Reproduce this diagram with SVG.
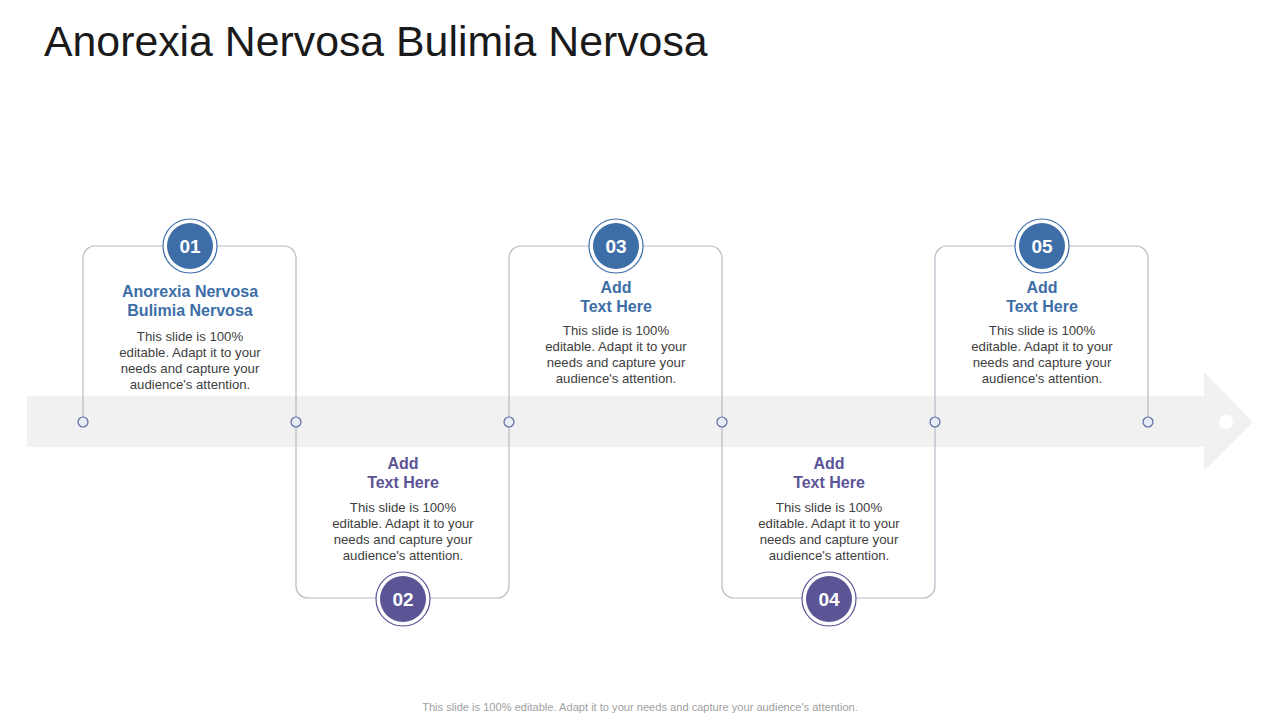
<svg xmlns="http://www.w3.org/2000/svg" width="1280" height="720" viewBox="0 0 1280 720">
<style>
.ln{fill:none;stroke:#b4b9c3;stroke-width:1.2}
.dot{fill:#e8ecf6;stroke:#5b6aa0;stroke-width:1.2}
.ring{fill:#fff;stroke-width:1.2}
.num{font-family:"Liberation Sans",Arial,sans-serif;font-weight:bold;font-size:19px;fill:#fff;text-anchor:middle}
.hd{font-family:"Liberation Sans",Arial,sans-serif;font-weight:bold;font-size:16px;text-anchor:middle}
.bd{font-family:"Liberation Sans",Arial,sans-serif;font-size:13.2px;fill:#404040;text-anchor:middle}
.b{fill:#3d6ea8}.p{fill:#5b5596}
</style>
<rect width="1280" height="720" fill="#fff"/>
<text x="44" y="56" font-family="Liberation Sans,Arial,sans-serif" font-size="42.8" fill="#1a1a1a">Anorexia Nervosa Bulimia Nervosa</text>
<polygon points="27,396 1204,396 1204,372 1253,422 1204,471 1204,447 27,447" fill="#f1f1f1"/>
<circle cx="1226" cy="422" r="7" fill="#fff"/>
<g id="connectors">
<path class="ln" d="M83,422 V258 a12,12 0 0 1 12,-12 H284 a12,12 0 0 1 12,12 V586 a12,12 0 0 0 12,12 H497 a12,12 0 0 0 12,-12 V258 a12,12 0 0 1 12,-12 H710 a12,12 0 0 1 12,12 V586 a12,12 0 0 0 12,12 H923 a12,12 0 0 0 12,-12 V258 a12,12 0 0 1 12,-12 H1136 a12,12 0 0 1 12,12 V422"/>
<circle class="dot" cx="83" cy="422" r="5"/><circle class="dot" cx="296" cy="422" r="5"/><circle class="dot" cx="509" cy="422" r="5"/><circle class="dot" cx="722" cy="422" r="5"/><circle class="dot" cx="935" cy="422" r="5"/><circle class="dot" cx="1148" cy="422" r="5"/>
</g>
<g id="n1"><circle class="ring" cx="190" cy="246" r="27" stroke="#3d6ea8"/><circle class="b" cx="190" cy="246" r="23"/><text class="num" x="190" y="253">01</text>
<text class="hd" x="190" y="297" fill="#3d6ea8">Anorexia Nervosa</text><text class="hd" x="190" y="316" fill="#3d6ea8">Bulimia Nervosa</text>
<text class="bd" x="190" y="341">This slide is 100%</text><text class="bd" x="190" y="357">editable. Adapt it to your</text><text class="bd" x="190" y="373">needs and capture your</text><text class="bd" x="190" y="389">audience's attention.</text></g>
<g id="n2"><circle class="ring" cx="403" cy="599" r="27" stroke="#5b5596"/><circle class="p" cx="403" cy="599" r="23"/><text class="num" x="403" y="606">02</text>
<text class="hd" x="403" y="469" fill="#5b5596">Add</text><text class="hd" x="403" y="488" fill="#5b5596">Text Here</text>
<text class="bd" x="403" y="512">This slide is 100%</text><text class="bd" x="403" y="528">editable. Adapt it to your</text><text class="bd" x="403" y="544">needs and capture your</text><text class="bd" x="403" y="560">audience's attention.</text></g>
<g id="n3"><circle class="ring" cx="616" cy="246" r="27" stroke="#3d6ea8"/><circle class="b" cx="616" cy="246" r="23"/><text class="num" x="616" y="253">03</text>
<text class="hd" x="616" y="293" fill="#3d6ea8">Add</text><text class="hd" x="616" y="312" fill="#3d6ea8">Text Here</text>
<text class="bd" x="616" y="335">This slide is 100%</text><text class="bd" x="616" y="351">editable. Adapt it to your</text><text class="bd" x="616" y="367">needs and capture your</text><text class="bd" x="616" y="383">audience's attention.</text></g>
<g id="n4"><circle class="ring" cx="829" cy="599" r="27" stroke="#5b5596"/><circle class="p" cx="829" cy="599" r="23"/><text class="num" x="829" y="606">04</text>
<text class="hd" x="829" y="469" fill="#5b5596">Add</text><text class="hd" x="829" y="488" fill="#5b5596">Text Here</text>
<text class="bd" x="829" y="512">This slide is 100%</text><text class="bd" x="829" y="528">editable. Adapt it to your</text><text class="bd" x="829" y="544">needs and capture your</text><text class="bd" x="829" y="560">audience's attention.</text></g>
<g id="n5"><circle class="ring" cx="1042" cy="246" r="27" stroke="#3d6ea8"/><circle class="b" cx="1042" cy="246" r="23"/><text class="num" x="1042" y="253">05</text>
<text class="hd" x="1042" y="293" fill="#3d6ea8">Add</text><text class="hd" x="1042" y="312" fill="#3d6ea8">Text Here</text>
<text class="bd" x="1042" y="335">This slide is 100%</text><text class="bd" x="1042" y="351">editable. Adapt it to your</text><text class="bd" x="1042" y="367">needs and capture your</text><text class="bd" x="1042" y="383">audience's attention.</text></g>
<text x="640" y="711" font-family="Liberation Sans,Arial,sans-serif" font-size="11.1" fill="#a0a0a0" text-anchor="middle">This slide is 100% editable. Adapt it to your needs and capture your audience's attention.</text>
</svg>
